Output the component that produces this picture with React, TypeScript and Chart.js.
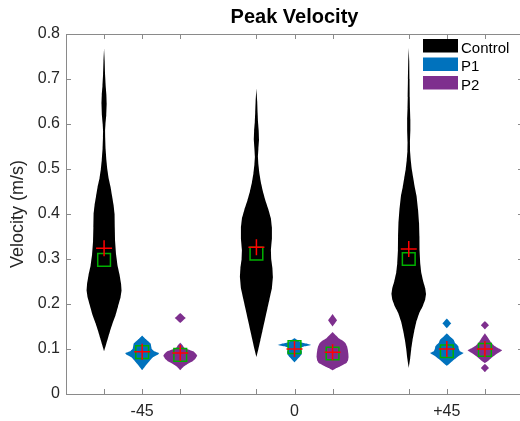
import React, { useEffect, useRef } from 'react';
import { Chart, registerables } from 'chart.js';

Chart.register(...registerables);

// ---------- data ----------
const chartTitle = 'Peak Velocity';
const yAxisTitle = 'Velocity (m/s)';
const groupLabels = ['-45', '0', '+45'];
const seriesNames = ['Control', 'P1', 'P2'];
const seriesColors = ['#000000', '#0072BD', '#7E2F8E'];
const xTickPositions = [1, 2, 3, 5, 6, 7, 9, 10, 11];
const yTickValues = [0, 0.1, 0.2, 0.3, 0.4, 0.5, 0.6, 0.7, 0.8];
const yTickLabels = ['0', '0.1', '0.2', '0.3', '0.4', '0.5', '0.6', '0.7', '0.8'];

// violin profiles: [value, density half-width]
const controlM45: [number, number][] = [
  [0.095, 0], [0.11, 2], [0.125, 4], [0.14, 6], [0.157, 8.5], [0.175, 11.5], [0.195, 14],
  [0.215, 16.5], [0.23, 17.5], [0.245, 17], [0.265, 15.5], [0.285, 13.5], [0.31, 12],
  [0.34, 11], [0.37, 10.7], [0.4, 10.5], [0.42, 9.5], [0.44, 8], [0.46, 6.5], [0.48, 4.5],
  [0.5, 3.2], [0.52, 2.3], [0.545, 1.5], [0.57, 1.1], [0.585, 1], [0.6, 1.4], [0.62, 2.2],
  [0.645, 2.6], [0.665, 2.3], [0.685, 1.6], [0.71, 1], [0.74, 0.6], [0.768, 0],
];
const p1M45: [number, number][] = [
  [0.053, 0], [0.06, 2.5], [0.067, 5], [0.075, 8], [0.082, 11], [0.088, 16], [0.091, 17],
  [0.095, 12], [0.1, 9.5], [0.106, 9], [0.112, 8.5], [0.117, 6], [0.122, 3.5], [0.13, 0],
];
const p2M45: [number, number][] = [
  [0.053, 0], [0.06, 3], [0.066, 7], [0.072, 12], [0.078, 15], [0.085, 17], [0.09, 15.5],
  [0.095, 13], [0.099, 8], [0.103, 4], [0.108, 2.5], [0.114, 0],
  [0.158, 0], [0.169, 5.5], [0.18, 0],
];
const control0: [number, number][] = [
  [0.082, 0], [0.1, 2], [0.12, 4], [0.14, 6], [0.165, 8.5], [0.19, 11], [0.21, 13],
  [0.235, 15.5], [0.26, 16.5], [0.28, 16], [0.3, 14.8], [0.32, 14.5], [0.345, 15.5],
  [0.37, 15.5], [0.39, 14.5], [0.41, 12], [0.43, 9], [0.45, 6.5], [0.47, 4.5], [0.49, 3],
  [0.51, 2], [0.527, 1.5], [0.545, 2], [0.565, 2.6], [0.585, 2.3], [0.605, 1.6],
  [0.625, 1.2], [0.65, 0.8], [0.679, 0],
];
const p10: [number, number][] = [
  [0.07, 0], [0.076, 2.5], [0.082, 5], [0.088, 7], [0.094, 7.5], [0.099, 6.5], [0.103, 6],
  [0.106, 10], [0.109, 16.7], [0.112, 12], [0.115, 6], [0.119, 4], [0.124, 0],
];
const p20: [number, number][] = [
  [0.053, 0], [0.058, 4], [0.063, 9], [0.069, 14], [0.075, 15.5], [0.082, 16], [0.09, 15.8],
  [0.098, 15.3], [0.106, 14.5], [0.113, 13], [0.119, 10], [0.124, 6], [0.13, 3.5], [0.138, 0],
  [0.15, 0], [0.164, 4.5], [0.178, 0],
];
const controlP45: [number, number][] = [
  [0.058, 0], [0.08, 1.5], [0.1, 2.5], [0.12, 3.8], [0.14, 5.5], [0.16, 7.5], [0.18, 10.5],
  [0.195, 14], [0.21, 16.5], [0.222, 17.3], [0.235, 16.5], [0.25, 14.5], [0.27, 12.5],
  [0.29, 11.5], [0.32, 10.8], [0.35, 10.7], [0.38, 10.3], [0.41, 9.3], [0.44, 7.8], [0.46, 6],
  [0.48, 4.5], [0.5, 3], [0.52, 2], [0.54, 1.3], [0.56, 1.2], [0.585, 1.6], [0.61, 1.6],
  [0.635, 1.2], [0.66, 1], [0.7, 0.8], [0.74, 0.5], [0.769, 0],
];
const p1P45: [number, number][] = [
  [0.063, 0], [0.068, 3], [0.074, 6], [0.08, 9.5], [0.086, 13], [0.091, 17], [0.095, 13],
  [0.1, 12], [0.106, 11.5], [0.11, 10], [0.114, 8], [0.12, 7], [0.126, 4], [0.135, 0],
  [0.146, 0], [0.157, 4.5], [0.168, 0],
];
const p2P45: [number, number][] = [
  [0.049, 0], [0.058, 4], [0.067, 0], [0.069, 0], [0.074, 3.5], [0.08, 6.5], [0.086, 10],
  [0.092, 14], [0.097, 17.5], [0.101, 14], [0.106, 10], [0.11, 8], [0.115, 6], [0.12, 4.5],
  [0.127, 2.5], [0.135, 0], [0.144, 0], [0.153, 4], [0.162, 0],
];

const controlProfiles = [controlM45, control0, controlP45];
const p1Profiles = [p1M45, p10, p1P45];
const p2Profiles = [p2M45, p20, p2P45];

const controlMeans = [0.324, 0.326, 0.322];
const p1Means = [0.094, 0.1, 0.1];
const p2Means = [0.091, 0.093, 0.1];
const controlMedians = [0.298, 0.312, 0.3];
const p1Medians = [0.093, 0.104, 0.095];
const p2Medians = [0.087, 0.09, 0.098];

// ---------- styling ----------
const FONT = "'Liberation Sans', Arial, Helvetica, sans-serif";
const TEXT = '#262626';
const AXIS = '#8a8a8a';
const densityToUnits = 1 / 38.1;

const profilesBySeries = [controlProfiles, p1Profiles, p2Profiles];
const meansBySeries = [controlMeans, p1Means, p2Means];
const mediansBySeries = [controlMedians, p1Medians, p2Medians];
const positionOf = (g: number, s: number) => 1 + g * 4 + s;

// split a profile into separate blobs where two consecutive zero widths occur
function splitBlobs(profile: [number, number][]) {
  const blobs: [number, number][][] = [];
  let cur: [number, number][] = [];
  profile.forEach((p) => {
    if (cur.length && p[1] === 0 && cur[cur.length - 1][1] === 0) {
      blobs.push(cur);
      cur = [];
    }
    cur.push(p);
  });
  if (cur.length) blobs.push(cur);
  return blobs;
}

function violinPoints(profile: [number, number][], cx: number) {
  const right = profile.map(([v, d]) => ({ x: cx + d * densityToUnits, y: v }));
  const left = [...profile].reverse().map(([v, d]) => ({ x: cx - d * densityToUnits, y: v }));
  return [...right, ...left];
}

const decorPlugin = {
  id: 'decor',
  afterDraw(chart: any) {
    const { ctx, chartArea: a, scales } = chart;
    ctx.save();
    ctx.strokeStyle = AXIS;
    ctx.lineWidth = 1;
    ctx.strokeRect(Math.round(a.left) + 0.5, Math.round(a.top) + 0.5, Math.round(a.right - a.left), Math.round(a.bottom - a.top));
    const tl = 5;
    ctx.beginPath();
    xTickPositions.forEach((v) => {
      const x = Math.round(scales.x.getPixelForValue(v)) + 0.5;
      ctx.moveTo(x, a.bottom); ctx.lineTo(x, a.bottom - tl);
      ctx.moveTo(x, a.top); ctx.lineTo(x, a.top + tl);
    });
    yTickValues.forEach((v) => {
      const y = Math.round(scales.y.getPixelForValue(v)) + 0.5;
      ctx.moveTo(a.left, y); ctx.lineTo(a.left + tl, y);
      ctx.moveTo(a.right, y); ctx.lineTo(a.right - tl, y);
    });
    ctx.stroke();

    // title
    ctx.fillStyle = '#000';
    ctx.font = `bold 20px ${FONT}`;
    ctx.textAlign = 'center';
    ctx.textBaseline = 'alphabetic';
    ctx.fillText(chartTitle, (a.left + a.right) / 2, 23);

    // legend
    ctx.font = `15px ${FONT}`;
    ctx.textAlign = 'left';
    seriesNames.forEach((name, i) => {
      const base = a.top + 18.5 + i * 18.5;
      ctx.fillStyle = seriesColors[i];
      ctx.fillRect(a.right - 100, base - 13.5, 35, 13.5);
      ctx.fillStyle = '#000';
      ctx.fillText(name, a.right - 62, base);
    });
    ctx.restore();
  },
};

export default function App() {
  const ref = useRef<HTMLCanvasElement>(null);
  useEffect(() => {
    if (!ref.current) return;
    document.body.style.overflow = 'hidden';
    Chart.defaults.font.family = FONT;

    const datasets: any[] = [];
    profilesBySeries.forEach((profiles, s) => {
      profiles.forEach((profile, g) => {
        splitBlobs(profile).forEach((blob) => {
          datasets.push({
            data: violinPoints(blob, positionOf(g, s)),
            showLine: true,
            fill: 'shape',
            backgroundColor: seriesColors[s],
            borderColor: 'rgba(0,0,0,0)',
            borderWidth: 0,
            pointRadius: 0,
            tension: 0.0001,
            order: 3,
          });
        });
      });
    });
    const medPts: any[] = [];
    const meanPts: any[] = [];
    mediansBySeries.forEach((arr, s) => arr.forEach((v, g) => medPts.push({ x: positionOf(g, s), y: v })));
    meansBySeries.forEach((arr, s) => arr.forEach((v, g) => meanPts.push({ x: positionOf(g, s), y: v })));
    datasets.push({
      data: medPts,
      pointStyle: 'rect',
      pointRadius: 9,
      pointBorderColor: '#00b000',
      borderColor: '#00b000',
      pointBackgroundColor: 'rgba(0,0,0,0)',
      backgroundColor: 'rgba(0,0,0,0)',
      pointBorderWidth: 1.5,
      borderWidth: 1.5,
      order: 2,
    });
    datasets.push({
      data: meanPts,
      pointStyle: 'cross',
      pointRadius: 8,
      pointBorderColor: '#ff0000',
      borderColor: '#ff0000',
      pointBorderWidth: 1.5,
      borderWidth: 1.5,
      order: 1,
    });

    const chart = new Chart(ref.current, {
      type: 'scatter',
      data: { datasets },
      plugins: [decorPlugin],
      options: {
        animation: false,
        responsive: false,
        events: [],
        layout: { padding: { top: 34, right: 17, bottom: 0, left: 0 } },
        plugins: { legend: { display: false }, tooltip: { enabled: false }, title: { display: false } },
        scales: {
          x: {
            type: 'linear',
            min: 0,
            max: 12,
            grid: { display: false, drawTicks: false },
            border: { display: false },
            afterBuildTicks: (scale: any) => {
              scale.ticks = xTickPositions.map((v) => ({ value: v }));
            },
            afterFit: (scale: any) => { scale.height = 27; },
            ticks: {
              padding: 8,
              color: TEXT,
              font: { size: 16, family: FONT },
              maxRotation: 0,
              autoSkip: false,
              callback: (value: any) => {
                const idx = [2, 6, 10].indexOf(Number(value));
                return idx >= 0 ? groupLabels[idx] : '';
              },
            },
          },
          y: {
            type: 'linear',
            min: 0,
            max: 0.8,
            grid: { display: false, drawTicks: false },
            border: { display: false },
            afterBuildTicks: (scale: any) => {
              scale.ticks = yTickValues.map((v) => ({ value: v }));
            },
            afterFit: (scale: any) => { scale.width = 66; },
            title: {
              display: true,
              text: yAxisTitle,
              color: TEXT,
              font: { size: 18, family: FONT },
              padding: { top: 7, bottom: 0 },
            },
            ticks: {
              padding: 6,
              color: TEXT,
              font: { size: 16, family: FONT },
              autoSkip: false,
              callback: (value: any) => {
                const idx = yTickValues.findIndex((t) => Math.abs(t - Number(value)) < 1e-9);
                return idx >= 0 ? yTickLabels[idx] : '';
              },
            },
          },
        },
      },
    });
    return () => chart.destroy();
  }, []);

  return (
    <div style={{ position: 'fixed', left: 0, top: 0, width: 540, height: 421, background: '#fff' }}>
      <canvas ref={ref} width={540} height={421} style={{ display: 'block' }} />
    </div>
  );
}
